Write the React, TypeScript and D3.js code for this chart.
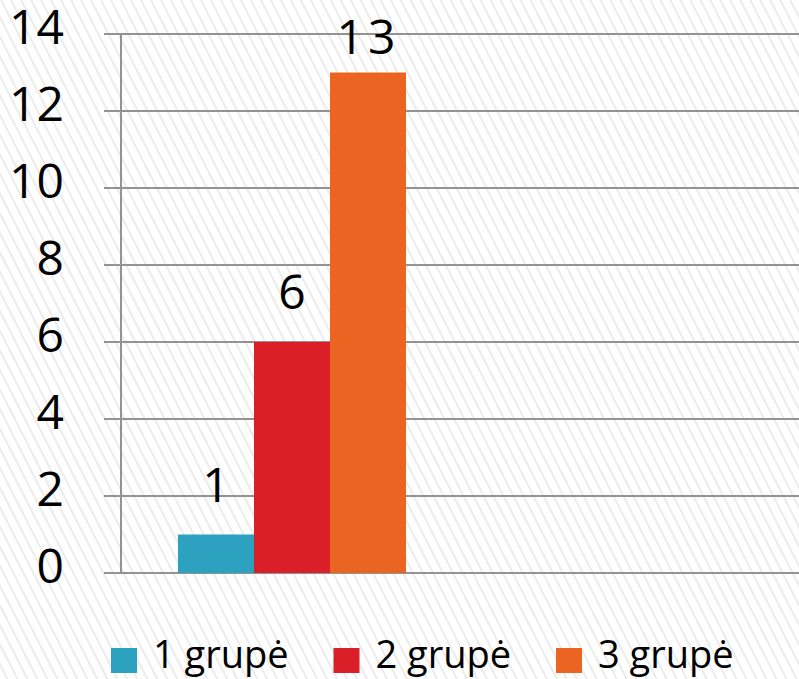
import React from "react";
import * as d3 from "d3";

const categories = ["Grupės"];
const seriesNames = ["1 grupė", "2 grupė", "3 grupė"];
const seriesValues = [1, 6, 13];
const seriesColors = ["#2CA2C0", "#DA1F28", "#EB6422"];
const yTicks = [0, 2, 4, 6, 8, 10, 12, 14];

const W = 799;
const H = 679;
const FONT = "'Open Sans', 'DejaVu Sans', sans-serif";

export default function App() {
  const y = d3.scaleLinear().domain([0, 14]).range([573, 34]);
  const x0 = d3.scaleBand<string>().domain(categories).range([121, 463]).paddingInner(0).paddingOuter(0.25);
  const x1 = d3.scaleBand<string>().domain(seriesNames).range([0, x0.bandwidth()]).padding(0);
  const axisX = 121;
  const gridStart = 104;

  return (
    <div style={{ position: "absolute", left: 0, top: 0, width: W, height: H }}>
      <svg width={W} height={H} style={{ display: "block" }}>
        <defs>
          <pattern id="hatch" width={8.9} height={40} patternUnits="userSpaceOnUse" patternTransform="rotate(-27)">
            <rect width={8.9} height={40} fill="#ffffff" />
            <line x1={1} y1={0} x2={1} y2={40} stroke="#e4e4e4" strokeWidth={1.4} />
          </pattern>
        </defs>
        <rect x={0} y={0} width={W} height={H} fill="url(#hatch)" />

        {yTicks.map((t) => (
          <line key={"g" + t} x1={gridStart} x2={W} y1={y(t)} y2={y(t)} stroke="#939393" strokeWidth={2} />
        ))}
        <line x1={axisX} x2={axisX} y1={y(14)} y2={y(0)} stroke="#939393" strokeWidth={2} />

        {yTicks.map((t) => (
          <text key={"t" + t} x={64} y={y(t) + 10} textAnchor="end" fontFamily={FONT} fontSize={48} fill="#000">
            {t}
          </text>
        ))}

        {categories.map((c) => (
          <g key={c} transform={`translate(${x0(c)},0)`}>
            {seriesNames.map((s, i) => (
              <rect key={s} x={x1(s)} y={y(seriesValues[i])} width={x1.bandwidth()} height={y(0) - y(seriesValues[i])} fill={seriesColors[i]} />
            ))}
            {seriesNames.map((s, i) => (
              <text
                key={"l" + s}
                x={(x1(s) as number) + x1.bandwidth() / 2}
                y={Math.max(y(seriesValues[i]) - 33, 54)}
                textAnchor="middle"
                fontFamily={FONT}
                fontSize={48}
                letterSpacing={seriesValues[i] >= 10 ? 4 : 0}
                fill="#000"
              >
                {seriesValues[i]}
              </text>
            ))}
          </g>
        ))}

        {seriesNames.map((s, i) => (
          <g key={"leg" + s} transform={`translate(${111 + i * 222.5},0)`}>
            <rect x={0} y={648} width={26} height={25} fill={seriesColors[i]} />
            <text x={42} y={668} fontFamily={FONT} fontSize={38} fill="#000">
              {s}
            </text>
          </g>
        ))}
      </svg>
    </div>
  );
}
